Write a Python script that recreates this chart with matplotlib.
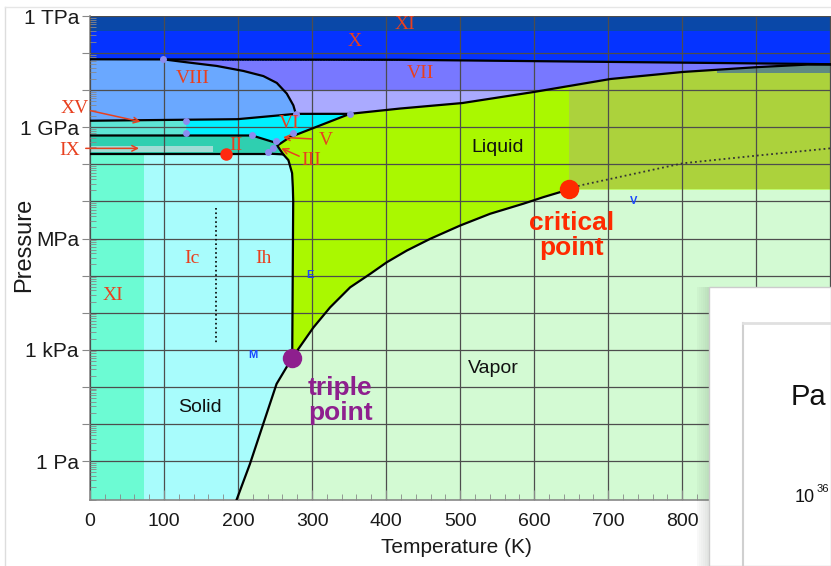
import numpy as np
import matplotlib.pyplot as plt
from matplotlib.patches import Rectangle
from matplotlib.lines import Line2D
from matplotlib.ticker import FixedLocator, LogLocator, MultipleLocator, FuncFormatter, NullFormatter

plt.rcParams['font.family'] = ['Liberation Sans', 'DejaVu Sans']

W, H = 831, 566
T_MAX = 1001
P_MIN = 10 ** -1.05
P_MAX = 1e12

# phase boundaries (T in K, P in Pa)
vap_T = [273.16, 301.8, 324.3, 351.4, 378.4, 400.9, 428, 459.5, 500, 540.5, 585.5, 612.6, 647]
vap_P = [611, 4.0e3, 1.39e4, 4.83e4, 1.11e5, 2.29e5, 4.74e5, 9.8e5, 2.24e6, 4.65e6, 8.7e6, 1.31e7, 2.1e7]

sub_T = [198, 216, 234, 252, 273.16]
sub_P = [0.09, 0.83, 10, 120, 611]

melt_T = [273.16, 274.5, 274, 273, 268, 261, 239]
melt_P = [611, 1.07e7, 2.4e7, 5.8e7, 1.3e8, 1.86e8, 1.95e8]

# III / V / VI / VII - liquid line
hp_T = [261, 253, 270, 351, 419, 503, 599, 703, 801, 903, 969, 1001]
hp_P = [1.86e8, 3.2e8, 5.4e8, 2.3e9, 3.2e9, 4.5e9, 8.9e9, 2.0e10, 3.1e10, 4.2e10, 4.9e10, 4.9e10]

# VII / X
x_T = [0, 419, 734, 969, 1001]
x_P = [6.8e10, 6.6e10, 5.7e10, 5.1e10, 5.0e10]
top_P = 4e11

# VIII / VII
viii_T = [98.8, 125.9, 171.2, 207.2, 234.2, 252.3, 265.8, 274.7, 277.9]
viii_P = [6.8e10, 5.8e10, 4.5e10, 3.3e10, 2.4e10, 1.57e10, 8.1e9, 3.9e9, 2.35e9]

# VIII - VI (XV) line
vi_T = [0, 199, 277.9, 351]
vi_P = [1.5e9, 1.65e9, 2.3e9, 2.3e9]

# II / VI line
ii_T = [0, 219, 253]
ii_P = [6.0e8, 6.0e8, 3.7e8]

# II / Ih line
ih_T = [0, 239]
ih_P = [1.95e8, 1.95e8]

# dotted line past the critical point
wid_T = [647, 662, 801, 903, 1000]
wid_P = [2.1e7, 2.7e7, 1.07e8, 1.74e8, 2.7e8]

# Ic / Ih
ic_T = [170, 170]
ic_P = [6.5e6, 1.45e3]

xi_T = 73
ix_T, ix_P = 166, [2.1e8, 3.2e8]
xv_T = 130

dot_T = [99, 278, 130, 130, 219, 274, 251, 247, 240, 351]
dot_P = [6.8e10, 2.35e9, 1.5e9, 6.8e8, 6.0e8, 7.0e8, 4.2e8, 2.8e8, 2.1e8, 2.3e9]

triple = (273.16, 611)
critical = (647, 2.1e7)
ii_dot = (184, 1.95e8)

fig = plt.figure(figsize=(W / 100, H / 100), dpi=100)
ax = fig.add_axes([90 / W, 1 - 500 / H, (W - 90) / W, (500 - 16) / H])
ax.set_yscale('log')
ax.set_xlim(0, T_MAX)
ax.set_ylim(P_MIN, P_MAX)
ax.set_facecolor('#d3fad3')

# liquid
ax.fill(melt_T[:-1] + hp_T + [T_MAX] + vap_T[::-1],
        melt_P[:-1] + hp_P + [2.1e7] + vap_P[::-1], color='#aaf800', lw=0)
# supercritical
ax.fill_between([647, T_MAX], 2.1e7, P_MAX, color='#acd23c', lw=0)
ax.fill_between([847, T_MAX], 2.85e10, P_MAX, color='#5f8a82', lw=0)

# high pressure ices
hp_poly = ax.fill([0, 239] + hp_T + [T_MAX, 0], [1.95e8, 1.95e8] + hp_P + [P_MAX, P_MAX],
                  color='#7878ff', lw=0)[0]
lav = ax.fill_between([0, T_MAX], P_MIN, 1e10, color='#aaaaff', lw=0)
lav.set_clip_path(hp_poly)
blue = ax.fill_between(x_T, x_P, P_MAX, color='#0533ff', lw=0)
blue.set_clip_path(hp_poly)
ax.fill_between([0, T_MAX], top_P, P_MAX, color='#0a48a8', lw=0)
ax.fill([0] + viii_T + vi_T[:3][::-1], [6.8e10] + viii_P + vi_P[:3][::-1], color='#6aa8ff', lw=0)
ax.fill(vi_T + [270, 253] + ii_T[::-1][1:], vi_P + [5.4e8, 3.7e8] + ii_P[::-1][1:], color='#00f0ff', lw=0)
ax.fill([0, 0, xv_T, xv_T], [6.0e8, 1.5e9, 1.58e9, 6.0e8], color='#5ee5d5', lw=0)
ax.fill(ii_T + [261, 239, 0], ii_P + [1.86e8, 1.95e8, 1.95e8], color='#2fcfb0', lw=0)
ax.fill_between([0, ix_T], ix_P[0], ix_P[1], color='#9fdcd5', lw=0)

# ice I
ax.fill([0] + sub_T + melt_T[1:] + [0], [P_MIN] + sub_P + melt_P[1:] + [1.95e8], color='#a8fcfc', lw=0)
ax.fill_between([0, xi_T], P_MIN, 1.95e8, color='#6cfbd3', lw=0)
ax.fill_between([sub_T[0] - 2, sub_T[0]], P_MIN, sub_P[0], color='#a8fcfc', lw=0)

# boundary lines
kw = dict(color='black', lw=1.6, zorder=3)
ax.plot(vap_T, vap_P, **kw)
ax.plot(sub_T, sub_P, **kw)
ax.plot(melt_T, melt_P, **kw)
ax.plot(hp_T, hp_P, **kw)
ax.plot(x_T, x_P, **kw)
ax.plot(viii_T, viii_P, **kw)
ax.plot(vi_T, vi_P, **kw)
ax.plot(ii_T, ii_P, **kw)
ax.plot(ih_T, ih_P, **kw)
ax.plot(wid_T, wid_P, color='#333333', lw=1.3, ls=':', zorder=3)
ax.plot(ic_T, ic_P, color='black', lw=1.2, ls=':', zorder=3)

ax.plot(dot_T, dot_P, 'o', color='#8c8cf0', ms=5, mew=0, zorder=4)
ax.plot(*ii_dot, 'o', color='#ff2a10', ms=9, mew=0, zorder=4)
ax.plot(*triple, 'o', color='#8e1f8e', ms=14, mew=0, zorder=5)
ax.plot(*critical, 'o', color='#ff2a00', ms=14, mew=0, zorder=5)

# labels
red = '#e8401f'
serif = dict(family=['Liberation Serif', 'DejaVu Serif'], color=red, fontsize=14,
             ha='center', va='center', zorder=6)
for s, t, p in [('XI', 426, 6e11), ('X', 357, 2.1e11), ('VII', 446, 2.9e10),
                ('VIII', 139, 2.1e10), ('II', 197, 3.2e8), ('VI', 269, 1.3e9),
                ('V', 318, 4.5e8), ('III', 299, 1.25e8), ('Ic', 138, 2.9e5),
                ('Ih', 234, 2.9e5), ('XI', 31, 2.9e4)]:
    ax.text(t, p, s, **serif)
ax.text(-20, 3.2e9, 'XV', clip_on=False, **serif)
ax.text(-27, 2.4e8, 'IX', clip_on=False, **serif)
akw = dict(arrowstyle='->', color=red, lw=1.1)
ax.annotate('', xy=(72, 1.36e9), xytext=(-3, 2.9e9), arrowprops=akw, annotation_clip=False)
ax.annotate('', xy=(70, 2.7e8), xytext=(-9.5, 2.7e8), arrowprops=akw, annotation_clip=False)
ax.annotate('', xy=(257, 5.4e8), xytext=(303, 4.8e8), arrowprops=akw)
ax.annotate('', xy=(255, 2.9e8), xytext=(286, 1.55e8), arrowprops=akw)

ax.text(550, 2.9e8, 'Liquid', fontsize=14, ha='center', va='center', color='#111111')
ax.text(545, 310, 'Vapor', fontsize=14, ha='center', va='center', color='#111111')
ax.text(149, 27, 'Solid', fontsize=14, ha='center', va='center', color='#111111')
ax.text(651, 1.2e6, 'critical\npoint', fontsize=19, fontweight='bold', color='#ff2a00',
        ha='center', va='center', linespacing=1.05, zorder=6)
ax.text(338, 42, 'triple\npoint', fontsize=19, fontweight='bold', color='#8e1f8e',
        ha='center', va='center', linespacing=1.05, zorder=6)
for s, t, p in [('E', 297, 1.07e5), ('M', 220, 720), ('V', 735, 1e7)]:
    ax.text(t, p, s, fontsize=8, fontweight='bold', color='#1a46ff', ha='center', va='center')

# axes
p_tick_vals = [1, 1e3, 1e6, 1e9, 1e12]
p_tick_labels = ['1 Pa', '1 kPa', 'MPa', '1 GPa', '1 TPa']
lab = dict(zip(p_tick_vals, p_tick_labels))
ax.yaxis.set_major_locator(FixedLocator(10.0 ** np.arange(0, 13)))
ax.yaxis.set_major_formatter(FuncFormatter(
    lambda v, pos: next((l for k, l in lab.items() if abs(np.log10(v) - np.log10(k)) < 0.01), '')))
ax.yaxis.set_minor_locator(LogLocator(base=10, subs=np.arange(2, 10), numticks=30))
ax.yaxis.set_minor_formatter(NullFormatter())
ax.xaxis.set_major_locator(MultipleLocator(100))
ax.xaxis.set_minor_locator(MultipleLocator(20))
ax.tick_params(axis='y', which='major', direction='out', length=6, color='#888888',
               labelsize=15, labelcolor='#1a1a1a', pad=2)
ax.tick_params(axis='y', which='minor', direction='in', length=4, color='#888888')
ax.tick_params(axis='x', which='major', direction='in', length=7, color='#888888',
               labelsize=14, labelcolor='#1a1a1a', pad=9)
ax.tick_params(axis='x', which='minor', direction='in', length=4, color='#888888')
ax.grid(which='major', color='#4d4d4d', lw=0.9)
ax.set_axisbelow(False)
for side in ['top', 'right']:
    ax.spines[side].set_visible(False)
for side in ['left', 'bottom']:
    ax.spines[side].set_color('#888888')
    ax.spines[side].set_linewidth(1.2)

ax.set_ylabel('Pressure', fontsize=17, color='#1a1a1a')
ax.yaxis.set_label_coords((35 - 90) / 741, (500 - 245) / 484)
ax.set_xlabel('Temperature (K)', fontsize=15, color='#1a1a1a')
ax.xaxis.set_label_coords((456 - 90) / 741, -(538 - 500) / 484)

# page frame
fig.add_artist(Line2D([5 / W, 5 / W], [0, 1 - 7 / H], color='#dddddd', lw=1))
fig.add_artist(Line2D([5 / W, 1], [1 - 7 / H, 1 - 7 / H], color='#e6e6e6', lw=1))

# overlapping popup panel
for i in range(6):
    fig.add_artist(Rectangle(((697 + 2 * i) / W, 0), 2 / W, 1 - 287 / H, transform=fig.transFigure,
                             facecolor='#506050', alpha=0.04 + 0.025 * i, lw=0, zorder=9))
fig.add_artist(Rectangle((709 / W, 0), (W - 709) / W, 1 - 287 / H, transform=fig.transFigure,
                         facecolor='white', edgecolor='#cccccc', lw=1, zorder=10))
fig.add_artist(Line2D([743 / W, 743 / W], [0, 1 - 323 / H], color='#d0d0d0', lw=1.5, zorder=11))
fig.add_artist(Line2D([743 / W, 1], [1 - 323 / H, 1 - 323 / H], color='#e0e0e0', lw=2, zorder=11))
fig.text(808 / W, 1 - 397 / H, 'Pa', fontsize=21, ha='center', va='center', color='#111111', zorder=12)
fig.text(795 / W, 1 - 498 / H, '10', fontsize=13, ha='left', va='center', color='#111111', zorder=12)
fig.text(817 / W, 1 - 489 / H, '36', fontsize=8, ha='left', va='center', color='#111111', zorder=12)

fig.savefig('out.png', dpi=100)
